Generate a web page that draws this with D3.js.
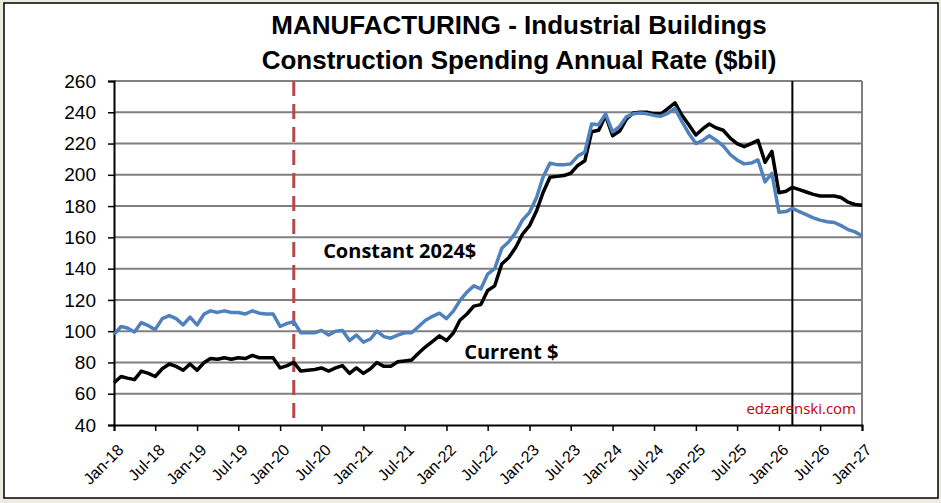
<!DOCTYPE html>
<html>
<head>
<meta charset="utf-8">
<script src="https://cdn.jsdelivr.net/npm/d3@7"></script>
<style>
  body { margin: 0; background: #ecebdf; }
  svg { display: block; }
</style>
</head>
<body>
<svg id="chart" width="941" height="503"></svg>
<script>
// monthly values, Jan-18 .. Jan-27
const constant2024 = [
  98, 103, 102, 99.5, 105.5, 103.5, 101, 108, 110, 108, 104, 109,
  104, 111, 113, 112, 113, 112, 112, 111, 113, 111.5, 111, 111,
  103, 105, 106, 99, 99, 99, 100.5, 97.5, 100, 100.5, 94, 97.5,
  93, 95, 100, 96.5, 95.5, 97.5, 99, 99, 103, 107, 109.5, 111.5,
  108, 113, 119.5, 125, 129, 127, 136.5, 140, 153, 157, 163, 171,
  176, 185.5, 198.5, 207.5, 206.5, 206.5, 207, 212, 214.5, 232.5, 232, 239,
  227.5, 231, 237, 239, 239.5, 239, 238, 237.5, 239.5, 242.5, 234, 226.5,
  220, 222, 225, 222, 218.5, 213, 209.5, 207, 207.5, 209.5, 195.5, 201,
  176, 176.5, 178.5, 176.5, 174.5, 172.5, 171, 170, 169.5, 167.5, 165, 163.5,
  161
]
const current = [
  67, 71, 70, 69, 74.5, 73, 71, 76, 79, 77.5, 75, 79,
  75, 80, 82.5, 82, 83, 82, 83, 82.5, 84.5, 83, 83, 83,
  76.5, 78, 80, 74.5, 75, 75.5, 76.5, 74.5, 76.5, 78, 73, 76.5,
  73, 76, 80, 77.5, 77.5, 80.5, 81, 81.5, 86, 90, 93.5, 97,
  94, 99, 107, 111, 116, 117, 126, 129, 143, 147, 153.5, 162,
  167.5, 177, 188.5, 198.5, 199, 199.5, 201, 206, 209, 227.5, 228.5, 238,
  225, 228, 235.5, 239.5, 240, 240, 239, 239, 242.5, 246, 238, 232,
  225.5, 229.5, 232.5, 230, 228.5, 223.5, 220, 218, 220, 222, 208, 215,
  188.5, 189.5, 192, 190.5, 189, 187.5, 186.5, 186.5, 186.5, 185.5, 182.5, 181,
  180.5
]
const months = d3.timeMonth.range(new Date(2018, 0, 1), new Date(2027, 0, 2))
const yTicks = d3.range(40, 261, 20)
const covidDate = new Date(2020, 2, 1)
const forecastDate = new Date(2026, 2, 1)
const titleLines = [
  'MANUFACTURING - Industrial Buildings',
  'Construction Spending Annual Rate ($bil)',
]
const seriesLabels = [
  {text: 'Constant 2024$', date: new Date(2020, 6, 8), value: 147},
  {text: 'Current $', date: new Date(2022, 2, 20), value: 82.5},
]

const width = 941
const height = 503
const margins = {left: 114, top: 81, right: 79, bottom: 78}

const svg = d3.select('#chart')

// frame
svg.append('rect')
  .attr('x', 4).attr('y', 3)
  .attr('width', 934).attr('height', 495)
  .attr('fill', '#fff')
  .attr('stroke', '#000')
  .attr('stroke-width', 1.5)

const x = d3.scaleTime()
  .domain([months[0], months[months.length - 1]])
  .range([margins.left, width - margins.right])

const y = d3.scaleLinear()
  .domain([40, 260])
  .range([height - margins.bottom, margins.top])

// gridlines
svg.append('g')
  .selectAll('line')
  .data(yTicks.filter(d => d > 40))
  .join('line')
  .attr('x1', margins.left)
  .attr('x2', width - margins.right)
  .attr('y1', d => y(d))
  .attr('y2', d => y(d))
  .attr('stroke', '#808080')
  .attr('stroke-width', 2)

// right border of plot area
svg.append('line')
  .attr('x1', width - margins.right).attr('x2', width - margins.right)
  .attr('y1', margins.top).attr('y2', height - margins.bottom)
  .attr('stroke', '#808080')
  .attr('stroke-width', 2)

// y axis
const yAxis = d3.axisLeft(y).tickValues(yTicks).tickSize(6).tickPadding(12)
const gy = svg.append('g')
  .attr('transform', `translate(${margins.left},0)`)
  .call(yAxis)
gy.select('.domain').attr('stroke', '#000').attr('stroke-width', 2)
gy.selectAll('.tick line').attr('stroke', '#000').attr('stroke-width', 1.5)
gy.selectAll('.tick text')
  .attr('font-family', '"Liberation Sans", Arial, sans-serif')
  .attr('font-size', 19)
  .attr('fill', '#000')

// x axis
const xTicks = months.filter((d, i) => i % 6 === 0)
const xAxis = d3.axisBottom(x)
  .tickValues(xTicks)
  .tickFormat(d3.timeFormat('%b-%y'))
  .tickSize(6)
const gx = svg.append('g')
  .attr('transform', `translate(0,${height - margins.bottom})`)
  .call(xAxis)
gx.select('.domain').attr('stroke', '#000').attr('stroke-width', 2)
gx.selectAll('.tick line').attr('stroke', '#000').attr('stroke-width', 1.5)
gx.selectAll('.tick text')
  .attr('font-family', '"Liberation Sans", Arial, sans-serif')
  .attr('font-size', 16)
  .attr('fill', '#000')
  .attr('text-anchor', 'end')
  .attr('x', 0)
  .attr('y', 0)
  .attr('dy', 0)
  .attr('transform', 'translate(10,26) rotate(-45)')

// covid marker
svg.append('line')
  .attr('x1', x(covidDate)).attr('x2', x(covidDate))
  .attr('y1', margins.top).attr('y2', height - margins.bottom)
  .attr('stroke', '#b5474b')
  .attr('stroke-width', 3)
  .attr('stroke-dasharray', '15 8')

// forecast marker
svg.append('line')
  .attr('x1', x(forecastDate)).attr('x2', x(forecastDate))
  .attr('y1', margins.top).attr('y2', height - margins.bottom)
  .attr('stroke', '#000')
  .attr('stroke-width', 2)

const line = d3.line()
  .x((d, i) => x(months[i]))
  .y(d => y(d))

svg.append('path')
  .datum(current)
  .attr('d', line)
  .attr('fill', 'none')
  .attr('stroke', '#000')
  .attr('stroke-width', 3.5)
  .attr('stroke-linejoin', 'round')

svg.append('path')
  .datum(constant2024)
  .attr('d', line)
  .attr('fill', 'none')
  .attr('stroke', '#4f81bd')
  .attr('stroke-width', 3.5)
  .attr('stroke-linejoin', 'round')

// series labels
svg.append('g')
  .attr('font-family', '"Open Sans", "Noto Sans", sans-serif')
  .attr('font-weight', 700)
  .attr('font-size', 20)
  .attr('fill', '#000')
  .selectAll('text')
  .data(seriesLabels)
  .join('text')
  .attr('x', d => x(d.date))
  .attr('y', d => y(d.value))
  .text(d => d.text)

// watermark
svg.append('text')
  .attr('x', width - margins.right - 6)
  .attr('y', y(47))
  .attr('text-anchor', 'end')
  .attr('font-family', '"Open Sans", "Noto Sans", sans-serif')
  .attr('font-size', 15)
  .attr('fill', '#c00000')
  .text('edzarenski.com')

// title
svg.append('g')
  .attr('font-family', '"Liberation Sans", Arial, sans-serif')
  .attr('font-weight', 700)
  .attr('font-size', 26)
  .attr('text-anchor', 'middle')
  .attr('fill', '#000')
  .selectAll('text')
  .data(titleLines)
  .join('text')
  .attr('x', 519)
  .attr('y', (d, i) => 34 + i * 35)
  .text(d => d)
</script>
</body>
</html>
